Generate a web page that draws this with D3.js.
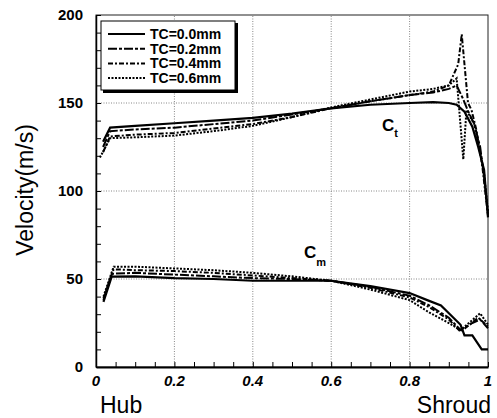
<!DOCTYPE html>
<html>
<head>
<meta charset="utf-8">
<script src="https://cdn.jsdelivr.net/npm/d3@7"></script>
<style>
  body { margin: 0; background: #fff; }
  text { font-family: Arial, "Liberation Sans", sans-serif; }
</style>
</head>
<body>
<div id="chart"></div>
<script>
var width = 497,
    height = 418,
    margin = { top: 15, right: 9, bottom: 51, left: 96 }

// x positions (Hub = 0, Shroud = 1) and velocities
var ctX00 = [0.018, 0.036, 0.1, 0.2, 0.3, 0.4, 0.5, 0.6, 0.7, 0.8, 0.86, 0.9, 0.92, 0.94, 0.96, 0.975, 0.99, 1.0]
var ctV00 = [128, 136, 137, 138.5, 140, 141.5, 144, 147, 149, 150, 150.5, 150, 149, 145, 136.5, 125, 112, 85]
var ctX02 = [0.018, 0.036, 0.1, 0.2, 0.3, 0.4, 0.5, 0.6, 0.7, 0.8, 0.86, 0.9, 0.92, 0.935, 0.95, 0.965, 0.98, 0.99, 1.0]
var ctV02 = [125, 134, 135, 136, 138, 140, 143.5, 147, 151, 154.5, 156, 158, 160, 153, 145, 138, 125, 108, 87]
var ctX04 = [0.018, 0.036, 0.1, 0.2, 0.3, 0.4, 0.5, 0.6, 0.7, 0.8, 0.86, 0.9, 0.924, 0.933, 0.949, 0.958, 0.97, 0.985, 1.0]
var ctV04 = [122, 131, 132, 133, 135.5, 138, 142, 147, 151, 154.5, 156.5, 160, 172, 189, 150, 146, 135, 115, 86]
var ctX06 = [0.01, 0.036, 0.1, 0.2, 0.3, 0.4, 0.5, 0.6, 0.7, 0.8, 0.86, 0.9, 0.92, 0.937, 0.945, 0.965, 0.98, 0.99, 1.0]
var ctV06 = [119, 130, 130.5, 131.5, 134, 137, 142, 147.5, 152, 156.5, 158, 160, 164, 118, 146, 138, 122, 110, 88]

var cmX00 = [0.019, 0.04, 0.1, 0.2, 0.3, 0.4, 0.5, 0.6, 0.7, 0.8, 0.845, 0.88, 0.93, 0.94, 0.96, 0.984, 1.0]
var cmV00 = [37, 51.3, 51.5, 50.5, 50, 49, 49, 49, 46, 42, 38, 35, 24, 18, 18, 10, 10]
var cmX02 = [0.019, 0.04, 0.1, 0.2, 0.3, 0.4, 0.5, 0.6, 0.7, 0.8, 0.85, 0.9, 0.93, 0.96, 0.98, 1.0]
var cmV02 = [38, 53, 53.5, 52.5, 51.5, 50.5, 50, 49, 45.5, 40.5, 35, 28, 21, 25, 27, 22]
var cmX04 = [0.019, 0.045, 0.1, 0.2, 0.3, 0.4, 0.5, 0.6, 0.7, 0.8, 0.85, 0.9, 0.93, 0.975, 1.0]
var cmV04 = [39, 55.5, 55, 54.5, 53.5, 52, 50.5, 49, 45, 39.5, 34, 27, 20, 28, 23]
var cmX06 = [0.019, 0.045, 0.1, 0.2, 0.3, 0.4, 0.5, 0.6, 0.7, 0.8, 0.85, 0.9, 0.93, 0.98, 1.0]
var cmV06 = [40, 57, 57, 56, 55, 53.5, 51.5, 49, 44, 38, 31, 25, 21, 30.5, 24]

var legendLabels = ['TC=0.0mm', 'TC=0.2mm', 'TC=0.4mm', 'TC=0.6mm']
var dashes = [null, '9,2,3,2', '5,2,2,2', '2,1.5']
var xTicks = [0, 0.2, 0.4, 0.6, 0.8, 1]
var yTicks = [0, 50, 100, 150, 200]

var zip = function(xs, vs) {
    return xs.map(function(x, i) { return { x: x, v: vs[i] } })
}

var series = [
    zip(ctX00, ctV00), zip(ctX02, ctV02), zip(ctX04, ctV04), zip(ctX06, ctV06),
    zip(cmX00, cmV00), zip(cmX02, cmV02), zip(cmX04, cmV04), zip(cmX06, cmV06)
]

var x = d3.scaleLinear().domain([0, 1]).range([margin.left, width - margin.right])
var y = d3.scaleLinear().domain([0, 200]).range([height - margin.bottom, margin.top])

var svg = d3.select('#chart').append('svg')
    .attr('width', width)
    .attr('height', height)

// dotted grid
svg.append('g').selectAll('line').data([0.2, 0.4, 0.6, 0.8])
    .enter().append('line')
        .attr('x1', function(d) { return x(d) }).attr('x2', function(d) { return x(d) })
        .attr('y1', y(0)).attr('y2', y(200))
        .attr('stroke', '#888').attr('stroke-dasharray', '1,1.5')
svg.append('g').selectAll('line').data([50, 100, 150])
    .enter().append('line')
        .attr('y1', function(d) { return y(d) }).attr('y2', function(d) { return y(d) })
        .attr('x1', x(0)).attr('x2', x(1))
        .attr('stroke', '#888').attr('stroke-dasharray', '1,1.5')

// frame
svg.append('rect')
    .attr('x', x(0)).attr('y', y(200))
    .attr('width', x(1) - x(0)).attr('height', y(0) - y(200))
    .attr('fill', 'none').attr('stroke', '#222').attr('stroke-width', 1)

// inner ticks
var xAxis = svg.append('g')
    .attr('transform', 'translate(0,' + y(0) + ')')
    .call(d3.axisBottom(x).tickValues(d3.range(0, 1.001, 0.05)).tickSizeInner(-5).tickSizeOuter(0).tickFormat(''))
var yAxis = svg.append('g')
    .attr('transform', 'translate(' + x(0) + ',0)')
    .call(d3.axisLeft(y).tickValues(d3.range(0, 201, 10)).tickSizeInner(-5).tickSizeOuter(0).tickFormat(''))
xAxis.select('.domain').attr('stroke-width', 2)
yAxis.select('.domain').attr('stroke-width', 1.5)

// tick labels
svg.append('g').selectAll('text').data(xTicks)
    .enter().append('text')
        .attr('x', function(d) { return x(d) })
        .attr('y', y(0) + 19)
        .attr('text-anchor', function(d) { return d == 1 ? 'end' : 'middle' })
        .attr('dx', function(d) { return d == 1 ? 4 : 0 })
        .style('font-size', '15px').style('font-weight', 'bold').style('font-style', 'italic')
        .text(function(d) { return d })
svg.append('g').selectAll('text').data(yTicks)
    .enter().append('text')
        .attr('x', x(0) - 13)
        .attr('y', function(d) { return y(d) + 5 })
        .attr('text-anchor', 'end')
        .style('font-size', '15px').style('font-weight', 'bold')
        .text(function(d) { return d })

svg.append('text').attr('x', 100).attr('y', 413)
    .style('font-size', '23px').text('Hub')
svg.append('text').attr('x', 491).attr('y', 413).attr('text-anchor', 'end')
    .style('font-size', '23px').text('Shroud')
svg.append('text')
    .attr('transform', 'translate(33,190) rotate(-90)')
    .attr('text-anchor', 'middle')
    .style('font-size', '23px').text('Velocity(m/s)')

// curves
var line = d3.line()
    .x(function(d) { return x(d.x) })
    .y(function(d) { return y(d.v) })

svg.append('g').selectAll('path').data(series)
    .enter().append('path')
        .attr('d', line)
        .attr('fill', 'none')
        .attr('stroke', '#000')
        .attr('stroke-width', function(d, i) { return i % 4 == 0 ? 2.2 : 2 })
        .attr('stroke-dasharray', function(d, i) { return dashes[i % 4] })

// curve labels
var ct = svg.append('text').attr('x', 382).attr('y', 131).style('font-weight', 'bold').style('font-size', '17px')
ct.append('tspan').text('C')
ct.append('tspan').attr('dy', 6).style('font-size', '11px').text('t')
var cm = svg.append('text').attr('x', 304).attr('y', 258).style('font-weight', 'bold').style('font-size', '17px')
cm.append('tspan').text('C')
cm.append('tspan').attr('dy', 8).style('font-size', '11px').text('m')

// legend
var legend = svg.append('g')
legend.append('rect').attr('x', 103).attr('y', 23).attr('width', 135).attr('height', 70).attr('fill', '#000')
legend.append('rect').attr('x', 101).attr('y', 21).attr('width', 134).attr('height', 69)
    .attr('fill', '#fff').attr('stroke', '#000').attr('stroke-width', 1)
var rows = legend.selectAll('g.row').data(legendLabels)
    .enter().append('g')
        .attr('class', 'row')
        .attr('transform', function(d, i) { return 'translate(0,' + (34 + i * 14.7) + ')' })
rows.append('line')
    .attr('x1', 108).attr('x2', 145)
    .attr('stroke', '#000').attr('stroke-width', 2)
    .attr('stroke-dasharray', function(d, i) { return dashes[i] })
rows.append('text')
    .attr('x', 150).attr('y', 5)
    .style('font-size', '14px').style('font-weight', 'bold')
    .text(function(d) { return d })
</script>
</body>
</html>
